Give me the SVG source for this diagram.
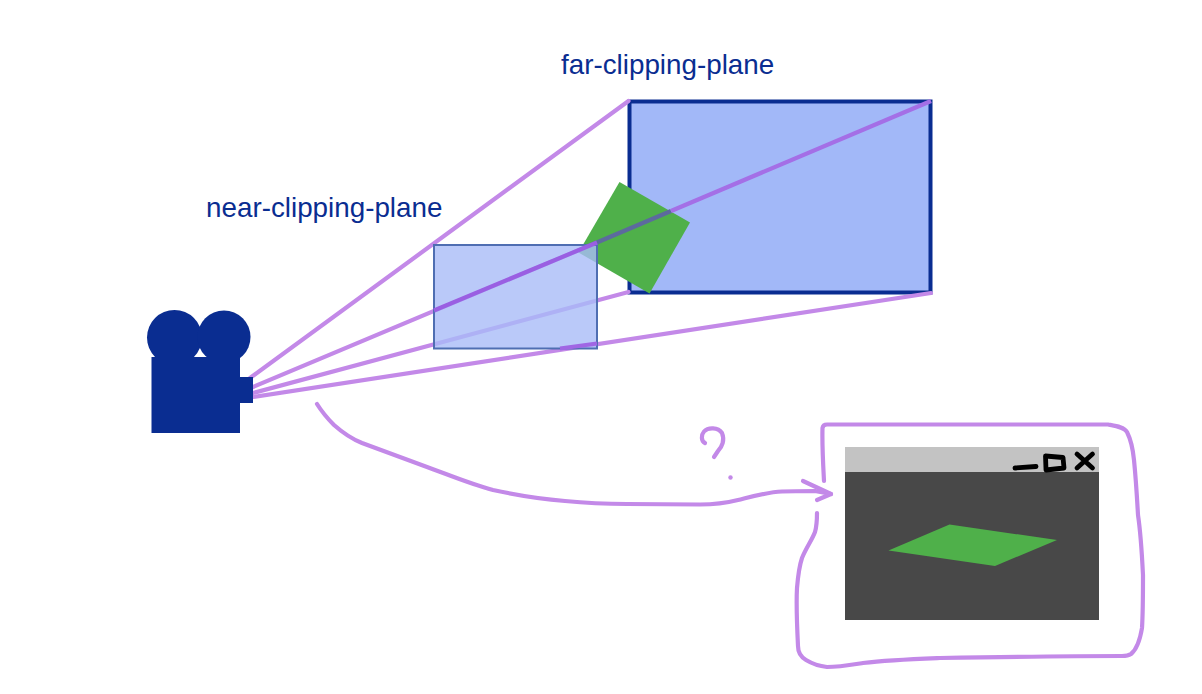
<svg xmlns="http://www.w3.org/2000/svg" width="1202" height="694" viewBox="0 0 1202 694">
<style>
.ray{fill:none;stroke:#c389e8;stroke-width:4.2;stroke-linecap:round}
.hand{fill:none;stroke:#c389e8;stroke-width:4.2;stroke-linecap:round;stroke-linejoin:round}
.ink{fill:none;stroke:#000;stroke-width:4.800;stroke-linecap:round;stroke-linejoin:round}
.lbl{font-family:"Liberation Sans",Arial,sans-serif;font-size:27.8px;fill:#0a2d91}
.cam{fill:#0a2d91}
</style>
<rect width="1202" height="694" fill="#fff"/>
<g id="far-plane">
<rect x="629.500" y="101.500" width="301" height="191" fill="#a2b8f8" stroke="#0a2d91" stroke-width="4"/>
</g>
<g id="object">
<polygon points="619.500,182 690,222.500 649.500,293.500 578.500,252.500" fill="#4fb04a"/>
</g>
<g id="connectors">
<path class="ray" d="M250,378L628.500,101"/>
<path class="ray" d="M253,393L628.500,292"/>
<path class="ray" d="M253,397L931,293"/>
<path class="ray" d="M253,387L578,250.500"/>
<path d="M578,250.500L671,211" fill="none" stroke="#5c6a9e" stroke-width="4.200"/>
<path d="M671,211L931,101" fill="none" stroke="#a46fe6" stroke-width="4.200"/>
<path class="hand" d="M317,404C322,412 328,419 334,425C343,433 352,439 362,443C384,451 405,459 427,467C449,475 470,484 493,490C516,495 541,499 565,501C585,503 606,504 627,504L700,504.500C716,504.500 726,503 738,500C754,496 768,492 782,491.500C793,491 804,491 815,491L831,494"/>
<path class="hand" d="M803,481L831,494L817,500"/>
<path class="hand" d="M705,443C701,441 701,435 704,431.500C708,427 718,427 722,433C725,440 722,447 718,451L714,457"/>
<circle cx="730.500" cy="477.500" r="2.200" fill="#c389e8"/>
</g>
<g id="near-plane">
<rect x="434" y="245" width="163" height="103.500" fill="#a9bcf8" fill-opacity="0.8" stroke="#4f6eb2" stroke-width="2"/>
<path d="M434,310.500L597,242.500" fill="none" stroke="#9a5fe2" stroke-width="4.200"/>
<path d="M560,348.500L597,343.500" fill="none" stroke="#a066e4" stroke-width="4.200"/>
</g>
<g id="camera">
<circle class="cam" cx="174.500" cy="337.500" r="27.500"/>
<circle class="cam" cx="224" cy="337" r="26.500"/>
<rect class="cam" x="151.500" y="357" width="88.500" height="76"/>
<rect class="cam" x="240" y="377" width="13" height="26"/>
</g>
<g id="window">
<rect x="845" y="447" width="254" height="25" fill="#c3c3c3"/>
<rect x="845" y="472" width="254" height="148" fill="#484848"/>
<polygon points="888.500,550.500 949.500,524.500 1057,540 995,566" fill="#4fb04a"/>
<path class="ink" d="M1015,468L1036,466.500"/>
<path class="ink" d="M1045.500,456L1063,457.500L1064,468L1046,470Z"/>
<path class="ink" d="M1077,454L1092.500,468M1092.500,454L1077,468"/>
</g>
<g id="window-outline">
<path class="hand" d="M824,481C823,462 822,445 822.500,428Q823,424.500 827,424.500L1108,424.500C1116,426 1124,427 1127,432C1131,440 1133,450 1134,460C1136,480 1137,497 1138,515C1141,535 1142,555 1143,575C1143,595 1143,612 1142,628C1140,640 1136,650 1131,654C1128,656 1125,656 1122,656C1060,656 1000,657 940,658C915,659 888,660 863,663C850,665 838,667 827,667C818,666 811,663 806,660C801,657 798,652 798,646C797,626 796,606 797,588C798,576 799,567 802,558C806,548 812,540 815,532C817,525 817,519 817,513"/>
</g>
<text class="lbl" x="561" y="74">far-clipping-plane</text>
<text class="lbl" x="206" y="217">near-clipping-plane</text>
</svg>
